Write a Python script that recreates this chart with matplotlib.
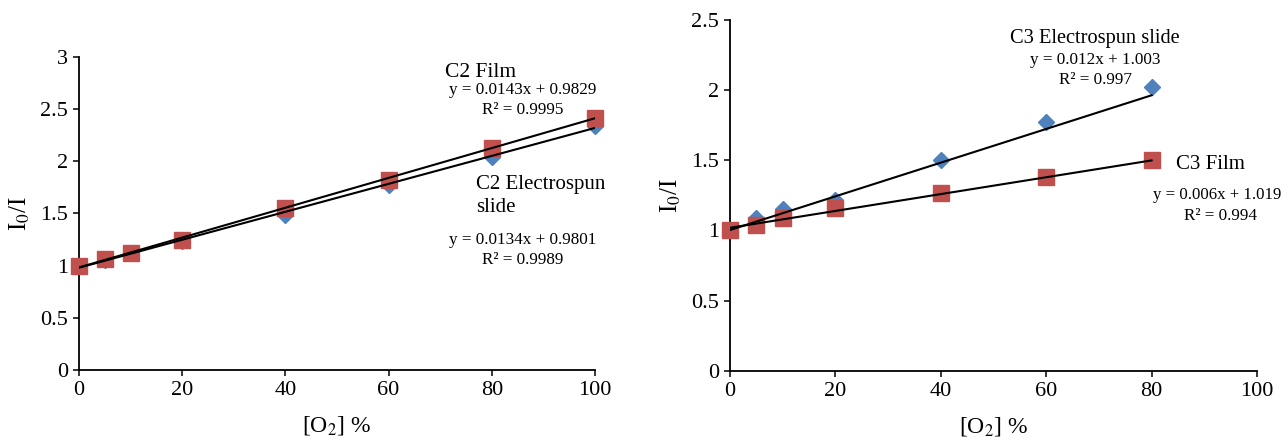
import numpy as np
import matplotlib
matplotlib.use("Agg")
import matplotlib.pyplot as plt

plt.rcParams['font.family'] = ['Liberation Serif', 'DejaVu Serif']
plt.rcParams['mathtext.fontset'] = 'stix'

# C2 (left panel)
c2_x = [0, 5, 10, 20, 40, 60, 80, 100]
c2_film = [1.0, 1.06, 1.12, 1.25, 1.55, 1.82, 2.13, 2.42]
c2_spun = [1.0, 1.05, 1.12, 1.24, 1.49, 1.77, 2.04, 2.34]
c2_film_fit = [0.0143, 0.9829]
c2_spun_fit = [0.0134, 0.9801]

# C3 (right panel)
c3_x = [0, 5, 10, 20, 40, 60, 80]
c3_spun = [1.0, 1.09, 1.15, 1.22, 1.50, 1.77, 2.02]
c3_film = [1.0, 1.04, 1.09, 1.16, 1.27, 1.38, 1.50]
c3_spun_fit = [0.012, 1.003]
c3_film_fit = [0.006, 1.019]

RED = '#C0504D'
BLUE = '#4F81BD'

fig = plt.figure(figsize=(12.82, 4.42), dpi=100)
ax1 = fig.add_axes([0.0616, 0.163, 0.4025, 0.708])
ax2 = fig.add_axes([0.5694, 0.161, 0.4111, 0.794])


def style(ax, ymax, ystep):
    for s in ['top', 'right']:
        ax.spines[s].set_visible(False)
    ax.spines['left'].set_linewidth(1.3)
    ax.spines['bottom'].set_linewidth(1.3)
    ax.set_xlim(0, 100)
    ax.set_ylim(0, ymax)
    ax.set_xticks(np.arange(0, 101, 20))
    ax.set_yticks(np.arange(0, ymax + 0.01, ystep))
    ax.set_yticklabels([f'{v:g}' for v in np.arange(0, ymax + 0.01, ystep)])
    ax.tick_params(direction='out', length=4, width=1.1, labelsize=16, pad=4)
    ax.set_xlabel('[O$_2$] %', fontsize=17, labelpad=10)
    ax.set_ylabel('I$_0$/I', fontsize=18, labelpad=6)


def fitline(ax, x, fit):
    xx = np.array([0, max(x)])
    ax.plot(xx, fit[0] * xx + fit[1], color='black', lw=1.5, zorder=4)


# left panel
ax1.plot(c2_x, c2_spun, 'D', color=BLUE, ms=8, zorder=3, clip_on=False)
ax1.plot(c2_x, c2_film, 's', color=RED, ms=11, zorder=3, clip_on=False)
fitline(ax1, c2_x, c2_film_fit)
fitline(ax1, c2_x, c2_spun_fit)
style(ax1, 3, 0.5)
ax1.text(71, 2.85, 'C2 Film', fontsize=15.5, ha='left', va='center')
ax1.text(86, 2.68, 'y = 0.0143x + 0.9829', fontsize=12.3, ha='center', va='center')
ax1.text(86, 2.49, 'R² = 0.9995', fontsize=12.3, ha='center', va='center')
ax1.text(77, 1.78, 'C2 Electrospun', fontsize=15, ha='left', va='center')
ax1.text(77, 1.56, 'slide', fontsize=15, ha='left', va='center')
ax1.text(86, 1.25, 'y = 0.0134x + 0.9801', fontsize=12.3, ha='center', va='center')
ax1.text(86, 1.05, 'R² = 0.9989', fontsize=12.3, ha='center', va='center')

# right panel
ax2.plot(c3_x, c3_spun, 'D', color=BLUE, ms=8, zorder=3, clip_on=False)
ax2.plot(c3_x, c3_film, 's', color=RED, ms=11, zorder=3, clip_on=False)
fitline(ax2, c3_x, c3_spun_fit)
fitline(ax2, c3_x, c3_film_fit)
style(ax2, 2.5, 0.5)
ax2.text(69.3, 2.37, 'C3 Electrospun slide', fontsize=14.7, ha='center', va='center')
ax2.text(69.3, 2.215, 'y = 0.012x + 1.003', fontsize=12.3, ha='center', va='center')
ax2.text(69.3, 2.07, 'R² = 0.997', fontsize=12.3, ha='center', va='center')
ax2.text(84.6, 1.47, 'C3 Film', fontsize=15, ha='left', va='center')
ax2.text(92.4, 1.25, 'y = 0.006x + 1.019', fontsize=12.1, ha='center', va='center', clip_on=False)
ax2.text(93.0, 1.10, 'R² = 0.994', fontsize=12.3, ha='center', va='center')

fig.savefig('out.png', dpi=100)
